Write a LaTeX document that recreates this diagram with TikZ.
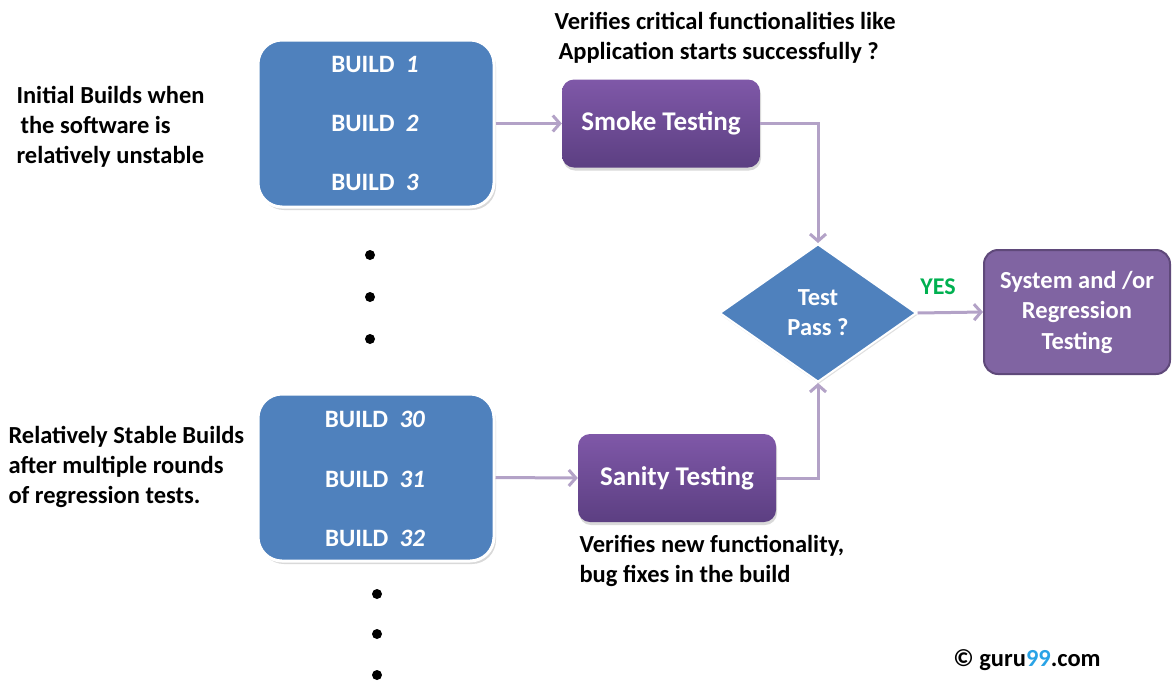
\documentclass[tikz,border=0pt]{standalone}
\usepackage{fontspec}
\setmainfont{Carlito}
\usetikzlibrary{arrows.meta, positioning, shapes.geometric, shadows}

\definecolor{buildblue}{HTML}{4F81BD}
\definecolor{testpurple}{HTML}{8064A2}
\definecolor{testtop}{HTML}{7F58A8}
\definecolor{testbottom}{HTML}{5C3F82}
\definecolor{testdark}{HTML}{5F497A}
\definecolor{linkpurple}{HTML}{B3A2C7}
\definecolor{yesgreen}{HTML}{00B050}
\definecolor{gurublue}{HTML}{29A3E6}

\tikzset{
  buildbox/.style={draw=white, line width=3pt, fill=buildblue, rounded corners=24pt,
    minimum width=236pt, minimum height=167pt,
    drop shadow={opacity=0.3, shadow xshift=2pt, shadow yshift=-3pt}},
  buildtext/.style={text=white, font=\fontsize{25}{29}\selectfont\bfseries},
  testbox/.style={rounded corners=12pt, top color=testtop, bottom color=testbottom,
    text=white, font=\fontsize{27}{31}\selectfont\bfseries, minimum width=198pt, minimum height=88pt,
    drop shadow={opacity=0.3, shadow xshift=1pt, shadow yshift=-3pt}},
  note/.style={align=left, anchor=west, font=\fontsize{24.5}{30}\selectfont\bfseries},
  link/.style={draw=linkpurple, line width=3pt, -{Straight Barb[length=7pt,width=16pt]}},
  dot/.style={fill=black}
}

\begin{document}
\begin{tikzpicture}[x=1pt, y=-1pt]
\useasboundingbox (0,0) rectangle (1172,681);

% builds
\node[buildbox] (early) at (376,123.5) {};
\node[buildbox] (stable) at (376,477.5) {};
\node[buildtext] (b1) at (375,64) {BUILD\ \ \textit{1}};
\node[buildtext] (b2) at (375,123) {BUILD\ \ \textit{2}};
\node[buildtext] (b3) at (375,182) {BUILD\ \ \textit{3}};
\node[buildtext] (b30) at (375,419) {BUILD\ \ \textit{30}};
\node[buildtext] (b31) at (375,479) {BUILD\ \ \textit{31}};
\node[buildtext] (b32) at (375,538) {BUILD\ \ \textit{32}};
\foreach \y in {255,297,339} \fill[dot] (370,\y) circle (5pt);
\foreach \y in {594,634,675} \fill[dot] (377,\y) circle (5pt);

% notes
\node[note] (earlynote) at (13,127) {Initial Builds when\\\hspace{4pt}the software is\\relatively unstable};
\node[note] (stablenote) at (5,467) {Relatively Stable Builds\\after multiple rounds\\of regression tests.};
\node[note] (smokenote) at (551,38) {Verifies critical functionalities like\\\hspace{4pt}Application starts successfully ?};
\node[note] (sanitynote) at (576,561) {Verifies new functionality,\\bug fixes in the build};

% tests
\node[testbox] (smoke) at (661,123.5) {Smoke Testing};
\node[testbox] (sanity) at (677,478) {Sanity Testing};
\node[diamond, draw=white, line width=2pt, fill=buildblue, inner sep=0pt,
  minimum width=197pt, minimum height=138pt, text=white, align=center,
  font=\fontsize{24.5}{30}\selectfont\bfseries,
  drop shadow={opacity=0.25, shadow xshift=1pt, shadow yshift=-2pt}] (pass) at (818,313) {Test\\Pass ?};
\node[rounded corners=14pt, draw=testdark, line width=2pt, fill=testpurple, text=white, align=center,
  minimum width=186pt, minimum height=124pt, font=\fontsize{24.5}{30.5}\selectfont\bfseries] (system) at (1077,312) {System and /or\\Regression\\Testing};

% links
\draw[link] (early.east) -- (smoke.west);
\draw[link] (stable.east) -- (sanity.west);
\draw[link] (smoke.east) -| (pass.north);
\draw[link] (sanity.east) -| (pass.south);
\draw[link] (pass.east) -- (system.west);
\node[text=yesgreen, font=\fontsize{24}{28}\selectfont\bfseries] (yes) at (938,287) {YES};

\node[font=\fontsize{24.5}{28}\selectfont\bfseries] (credit) at (1027,660) {© guru\textcolor{gurublue}{99}.com};
\end{tikzpicture}
\end{document}
